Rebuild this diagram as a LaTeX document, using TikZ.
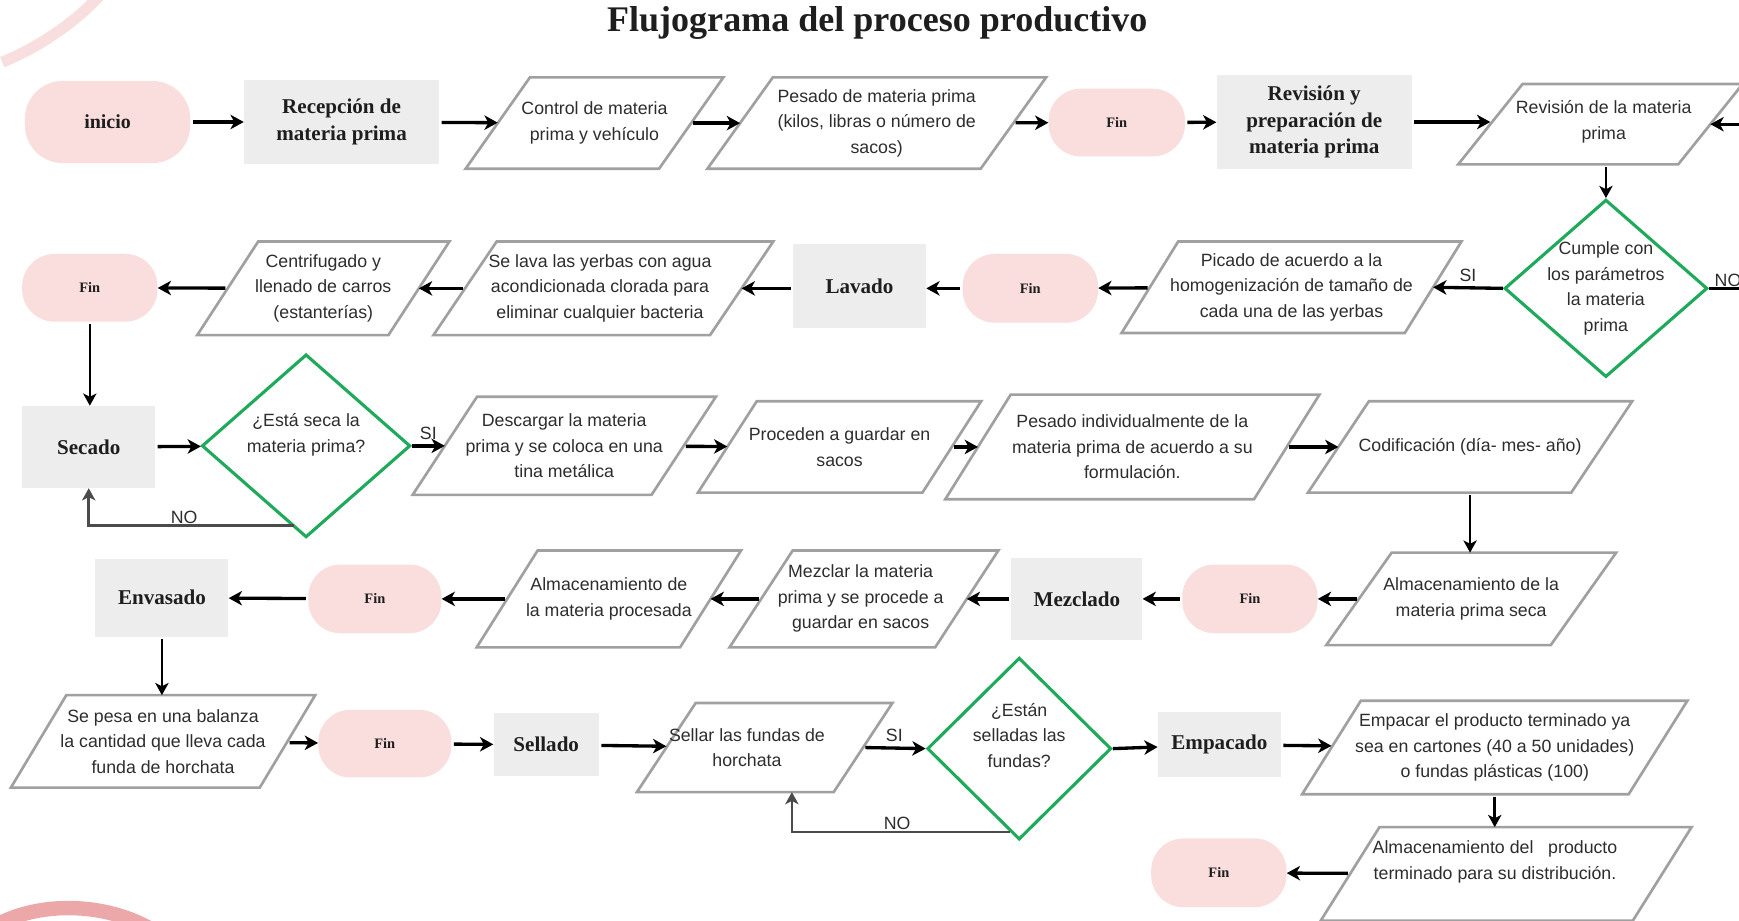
\documentclass[tikz,border=0pt]{standalone}
\usepackage{fontspec}
\setmainfont{Liberation Serif}
\setsansfont{Liberation Sans}
\usetikzlibrary{shapes.geometric,arrows.meta}

\definecolor{pinkfill}{RGB}{250,221,221}
\definecolor{boxgray}{RGB}{237,237,237}
\definecolor{edgegray}{RGB}{160,160,160}
\definecolor{decision}{RGB}{30,170,90}
\definecolor{ink}{RGB}{30,30,30}
\definecolor{bodyink}{RGB}{45,45,45}
\definecolor{decolight}{RGB}{248,222,222}
\definecolor{decodark}{RGB}{236,168,168}

\tikzset{
  pill/.style={fill=pinkfill, rounded corners=29pt, inner sep=0pt, text=ink,
    font=\bfseries\fontsize{13}{15}\selectfont},
  grbox/.style={fill=boxgray, inner sep=0pt, align=center, text=ink,
    font=\bfseries\fontsize{19}{24}\selectfont},
  parbox/.style={inner sep=0pt},
  paraline/.style={draw=edgegray, line width=2.4pt, line join=miter},
  ptext/.style={align=center, inner sep=0pt, text=bodyink,
    font=\sffamily\fontsize{16}{23}\selectfont},
  decbox/.style={diamond, draw=decision, line width=2.8pt, inner sep=0pt},
  arr/.style={-{Stealth[length=12pt,width=13pt,inset=3.5pt]}, line width=3pt, black,
    shorten <=2pt},
  varr/.style={-{Stealth[length=11pt,width=12pt,inset=3pt]}, line width=2.4pt, black,
    shorten <=2pt},
  loopline/.style={-{Stealth[length=11pt,width=12pt,inset=3pt]}, line width=2.3pt,
    draw={rgb,255:red,75;green,75;blue,75}},
  lbl/.style={inner sep=1pt, text=bodyink, font=\sffamily\fontsize{16}{18}\selectfont}
}

% parallelogram: [text options]{name}{cx}{cy}{top width}{height}{slant}{text}
\newcommand{\paranode}[8][]{%
  \node[parbox, minimum width=#5pt, minimum height=#6pt] (#2) at (#3,#4) {};
  \draw[paraline] ([xshift=#7pt/2]#2.north west) -- ([xshift=#7pt/2]#2.north east)
    -- ([xshift=-#7pt/2]#2.south east) -- ([xshift=-#7pt/2]#2.south west) -- cycle;
  \node[ptext,#1] (#2-t) at (#2.center) {#8};
}
% decision: [text options]{name}{cx}{cy}{width}{height}{text}
\newcommand{\decnode}[7][]{%
  \node[decbox, minimum width=#5pt, minimum height=#6pt] (#2) at (#3,#4) {};
  \node[ptext,#1] (#2-t) at (#2.center) {#7};
}

\begin{document}
\begin{tikzpicture}[x=1pt, y=-1pt]
\useasboundingbox (0,0) rectangle (1568,830);
\fill[white] (0,0) rectangle (1568,830);

% corner ornaments
\draw[decolight, line width=10pt] (2,56) .. controls (32,44) and (66,22) .. (90,-4);
\draw[decodark, line width=13pt] (-10,838) .. controls (30,812) and (95,812) .. (140,840);

% title
\node[font=\bfseries\fontsize{32.5}{36}\selectfont, text=ink] (title) at (791,21)
  {Flujograma del proceso productivo};

% ---- row 1 ----
\node[pill, minimum width=149pt, minimum height=74pt, rounded corners=34pt,
  font=\bfseries\fontsize{18}{20}\selectfont] (inicio) at (97,110) {inicio};
\node[grbox, minimum width=176pt, minimum height=75pt] (recep) at (308,110)
  {Recepción de\\materia prima};
\paranode{ctrl}{536}{111}{174}{82}{58}{Control de materia\\prima y vehículo}
\paranode{pesado}{790.5}{111}{246}{82}{59}{Pesado de materia prima\\(kilos, libras o número de\\sacos)}
\node[pill, minimum width=123pt, minimum height=61pt] (fin1) at (1007,110.5) {Fin};
\node[grbox, minimum width=176pt, minimum height=84pt] (revprep) at (1185,110)
  {Revisión y\\preparación de\\materia prima};
\paranode[xshift=3pt, yshift=2pt]{revmp}{1443}{112}{198}{72}{58}{Revisión de la materia\\prima}

% ---- row 2 ----
\decnode{d1}{1448}{260}{183}{160}{Cumple con\\los parámetros\\la materia\\prima}
\paranode{picado}{1164.5}{259}{255}{82}{51}{Picado de acuerdo a la\\homogenización de tamaño de\\cada una de las yerbas}
\node[pill, minimum width=122pt, minimum height=62pt] (fin2) at (929,260) {Fin};
\node[grbox, minimum width=120pt, minimum height=76pt] (lavado) at (775,258) {Lavado};
\paranode[xshift=-3pt]{selava}{544}{260}{249}{84}{57}{Se lava las yerbas con agua\\acondicionada clorada para\\eliminar cualquier bacteria}
\paranode{centri}{291.5}{260}{172}{84}{55}{Centrifugado y\\llenado de carros\\(estanterías)}
\node[pill, minimum width=122pt, minimum height=61pt] (fin3) at (81,259.5) {Fin};

% ---- row 3 ----
\node[grbox, minimum width=120pt, minimum height=74pt] (secado) at (80,403) {Secado};
\decnode[yshift=10pt]{d2}{276}{402}{188}{165}{¿Está seca la\\materia prima?}
\paranode{descargar}{508.75}{402}{215}{88}{58}{Descargar la materia\\prima y se coloca en una\\tina metálica}
\paranode{proceden}{757}{403}{202}{82}{53}{Proceden a guardar en\\sacos}
\paranode{pesind}{1021}{403}{278}{94}{59}{Pesado individualmente de la\\materia prima de acuerdo a su\\formulación.}
\paranode{codif}{1325.5}{403}{237}{82}{55}{Codificación (día- mes- año)}

% ---- row 4 ----
\paranode{almseca}{1326.5}{540}{202}{83}{59}{Almacenamiento de la\\materia prima seca}
\node[pill, minimum width=122pt, minimum height=62pt] (fin4) at (1127,540) {Fin};
\node[grbox, minimum width=118pt, minimum height=74pt] (mezclado) at (971,540) {Mezclado};
\paranode[xshift=-3pt]{mezclar}{779}{540}{185}{87}{57}{Mezclar la materia\\prima y se procede a\\guardar en sacos}
\paranode{almproc}{549}{540}{183}{87}{55}{Almacenamiento de\\la materia procesada}
\node[pill, minimum width=120pt, minimum height=62pt] (fin5) at (338,540) {Fin};
\node[grbox, minimum width=120pt, minimum height=70pt] (envasado) at (146,539) {Envasado};

% ---- row 5 ----
\paranode{sepesa}{147}{668.5}{224}{83}{50}{Se pesa en una balanza\\la cantidad que lleva cada\\funda de horchata}
\node[pill, minimum width=120pt, minimum height=61pt] (fin6) at (347,670.5) {Fin};
\node[grbox, minimum width=95pt, minimum height=57pt] (sellado) at (492.5,671.5) {Sellado};
\paranode[xshift=-16pt]{sellar}{689.5}{674}{177}{80}{53}{Sellar las fundas de\\horchata}
\decnode[yshift=12pt]{d3}{919}{675}{166}{164}{¿Están\\selladas las\\fundas?}
\node[grbox, minimum width=111pt, minimum height=59pt] (empacado) at (1099.5,671.5) {Empacado};
\paranode{empacar}{1347.75}{674}{294}{84}{53}{Empacar el producto terminado ya\\sea en cartones (40 a 50 unidades)\\o fundas plásticas (100)}
\paranode[xshift=-10pt, yshift=11pt]{almprod}{1358}{788}{281}{84}{53}{Almacenamiento del\ \ \ producto\\terminado para su distribución.}
\node[pill, minimum width=122pt, minimum height=62pt] (fin7) at (1099,787) {Fin};

% ---- connectors ----
\draw[arr] (inicio) -- (recep);
\draw[arr] (recep) -- (ctrl);
\draw[arr] (ctrl) -- (pesado);
\draw[arr] (pesado) -- (fin1);
\draw[arr] (fin1) -- (revprep);
\draw[arr] (revprep.east) -- (revprep.east -| revmp.west);
\draw[varr] (revmp.south -| d1.north) -- (d1.north);
\draw[arr, shorten <=0pt] (d1.east) -- ++(60,0) |- (revmp.east);
\node[lbl, anchor=south west] (no1) at ([xshift=4pt]d1.east) {NO};

\draw[arr, shorten <=0pt] (d1.west) -- node[lbl, above=3pt] (si1) {SI} (picado.east);
\draw[arr] (picado) -- (fin2);
\draw[arr] (fin2) -- (lavado.east |- fin2.center);
\draw[arr] (lavado.west |- selava.center) -- (selava);
\draw[arr] (selava) -- (centri);
\draw[arr] (centri) -- (fin3);
\draw[varr] (fin3.south) -- (fin3.south |- secado.north);

\draw[arr] (secado) -- (d2);
\draw[arr, shorten <=0pt] (d2.east) -- node[lbl, above=3pt] (si2) {SI} (descargar.west);
\coordinate (d2no) at (265,474);
\draw[loopline] (d2no) -| (secado.south);
\node[lbl, anchor=south] (no2) at (166,473) {NO};
\draw[arr] (descargar) -- (proceden);
\draw[arr] (proceden) -- (pesind);
\draw[arr] (pesind) -- (codif);
\draw[varr] (codif.south) -- (codif.south |- almseca.north);

\draw[arr] (almseca) -- (fin4);
\draw[arr] (fin4) -- (mezclado);
\draw[arr] (mezclado) -- (mezclar);
\draw[arr] (mezclar) -- (almproc);
\draw[arr] (almproc) -- (fin5);
\draw[arr] (fin5) -- (envasado);
\draw[varr] (envasado.south) -- (envasado.south |- sepesa.north);

\draw[arr] (sepesa) -- (fin6);
\draw[arr] (fin6) -- (sellado);
\draw[arr] (sellado) -- (sellar);
\draw[arr] (sellar.east) -- node[lbl, above=3pt] (si3) {SI} (d3.west);
\coordinate (d3no) at (911,750);
\draw[loopline] (d3no) -| ([xshift=24.5pt]sellar.south);
\node[lbl, anchor=south] (no3) at (809,749) {NO};
\draw[arr, shorten <=0pt] (d3.east) -- (empacado);
\draw[arr] (empacado) -- (empacar);
\draw[varr] (empacar.south) -- (empacar.south |- almprod.north);
\draw[arr] (almprod) -- (fin7);
\end{tikzpicture}
\end{document}
